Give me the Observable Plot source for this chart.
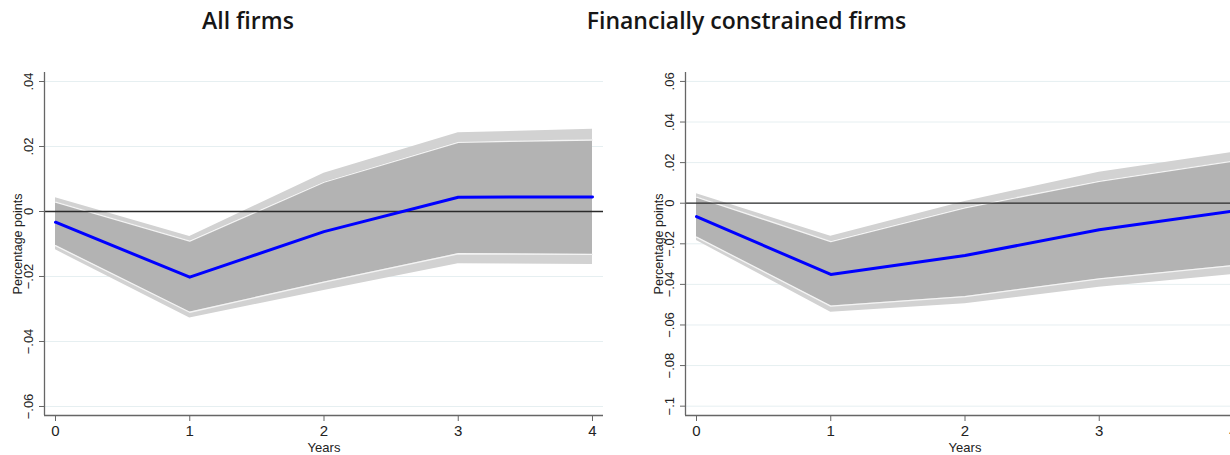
<!DOCTYPE html>
<html>
<head>
<meta charset="utf-8">
<script src="https://cdn.jsdelivr.net/npm/d3@7"></script>
<script src="https://cdn.jsdelivr.net/npm/@observablehq/plot@0.6"></script>
<style>
  html, body { margin: 0; padding: 0; background: #fff; overflow: hidden; width: 1230px; height: 455px; }
  #wrap { position: relative; width: 1230px; height: 455px; overflow: hidden; }
  .title { position: absolute; top: 0; font-family: "Open Sans", sans-serif; font-size: 23px; font-weight: 600; color: #161616; white-space: nowrap; transform: translateX(-50%); line-height: 1; padding-top: 9px; }
  .panel { position: absolute; top: 40px; }
</style>
</head>
<body>
<div id="wrap"></div>
<script>
// ---- data ----
const years = [0, 1, 2, 3, 4];

const allTitle = "All firms";
const allPoint = [-0.0033, -0.0202, -0.0062, 0.0044, 0.0045];
const allHi90  = [0.0029, -0.0091, 0.0090, 0.0213, 0.0220];
const allLo90  = [-0.0105, -0.0310, -0.0217, -0.0130, -0.0132];
const allHi95  = [0.0042, -0.0077, 0.0118, 0.0242, 0.0253];
const allLo95  = [-0.0118, -0.0328, -0.0243, -0.0161, -0.0163];
const allYTicks = [0.04, 0.02, 0, -0.02, -0.04, -0.06];

const conTitle = "Financially constrained firms";
const conPoint = [-0.0066, -0.0351, -0.0258, -0.0131, -0.0039];
const conHi90  = [0.0030, -0.0189, -0.0023, 0.0108, 0.0207];
const conLo90  = [-0.0167, -0.0507, -0.0460, -0.0373, -0.0307];
const conHi95  = [0.0046, -0.0163, 0.0008, 0.0153, 0.0251];
const conLo95  = [-0.0184, -0.0537, -0.0496, -0.0414, -0.0351];
const conYTicks = [0.06, 0.04, 0.02, 0, -0.02, -0.04, -0.06, -0.08, -0.1];

const xTicks = [0, 1, 2, 3, 4];
const yLabel = "Percentage points";
const xLabel = "Years";

// ---- helpers ----
function stataFmt(d) {
  if (Math.abs(d) < 1e-12) return "0";
  const s = String(+Math.abs(d).toFixed(4)).replace(/^0/, "");
  return (d < 0 ? "\u2212" : "") + s;
}

function panel({point, hi90, lo90, hi95, lo95, yTicks, yDomain, xDomain, width, marginLeft}) {
  const rows = years.map((x, i) => ({x, p: point[i], h90: hi90[i], l90: lo90[i], h95: hi95[i], l95: lo95[i]}));
  const axisColor = "#666";
  const font = "Liberation Sans, Arial, Helvetica, sans-serif";
  return Plot.plot({
    width,
    height: 415,
    marginTop: 32,
    marginBottom: 40,
    marginLeft,
    marginRight: 12,
    style: {fontFamily: font, background: "transparent", color: "#222", overflow: "visible"},
    x: {domain: xDomain, ticks: xTicks},
    y: {domain: yDomain},
    marks: [
      Plot.gridY(yTicks, {stroke: "#e6eff1", strokeOpacity: 1, strokeWidth: 1}),
      Plot.areaY(rows, {x: "x", y1: "l95", y2: "h95", fill: "#d2d2d2"}),
      Plot.areaY(rows, {x: "x", y1: "l90", y2: "h90", fill: "#b3b3b3"}),
      Plot.line(rows, {x: "x", y: "h90", stroke: "#f4f4f4", strokeWidth: 1.3}),
      Plot.line(rows, {x: "x", y: "l90", stroke: "#f4f4f4", strokeWidth: 1.3}),
      Plot.ruleY([0], {stroke: "#2a2a2a", strokeWidth: 1.3}),
      Plot.line(rows, {x: "x", y: "p", stroke: "#0000ff", strokeWidth: 3, strokeLinejoin: "round", strokeLinecap: "round"}),
      Plot.ruleY([yDomain[0]], {stroke: axisColor, strokeWidth: 1.3}),
      Plot.ruleX([xDomain[0]], {stroke: axisColor, strokeWidth: 1.3}),
      Plot.axisY(yTicks, {
        anchor: "left", tickSize: 5, tickPadding: 7, tickRotate: -90,
        tickFormat: stataFmt, fontSize: 13, stroke: axisColor,
        label: null
      }),
      Plot.text([yLabel], {frameAnchor: "left", dx: -27, rotate: -90, fontSize: 12.5, fill: "#222", textAnchor: "middle", lineAnchor: "middle"}),
      Plot.axisX(xTicks, {
        anchor: "bottom", tickSize: 6, tickPadding: 4, fontSize: 15,
        tickFormat: d => String(d), stroke: axisColor,
        label: null
      }),
      Plot.text([xLabel], {frameAnchor: "bottom", dy: 36, fontSize: 13, fill: "#222", textAnchor: "middle", lineAnchor: "bottom"})
    ]
  });
}

const wrap = document.getElementById("wrap");

function addTitle(text, cx) {
  const t = document.createElement("div");
  t.className = "title";
  t.textContent = text;
  t.style.left = cx + "px";
  wrap.appendChild(t);
}
addTitle(allTitle, 248);
addTitle(conTitle, 746.5);

const left = panel({
  point: allPoint, hi90: allHi90, lo90: allLo90, hi95: allHi95, lo95: allLo95,
  yTicks: allYTicks, yDomain: [-0.06277, 0.04277], xDomain: [-0.082, 4.082],
  width: 615, marginLeft: 44
});
left.classList.add("panel");
left.style.left = "0px";
wrap.appendChild(left);

const right = panel({
  point: conPoint, hi90: conHi90, lo90: conLo90, hi95: conHi95, lo95: conLo95,
  yTicks: conYTicks, yDomain: [-0.1046, 0.0644], xDomain: [-0.082, 4.082],
  width: 636, marginLeft: 65
});
right.classList.add("panel");
right.style.left = "620px";
wrap.appendChild(right);
</script>
</body>
</html>
